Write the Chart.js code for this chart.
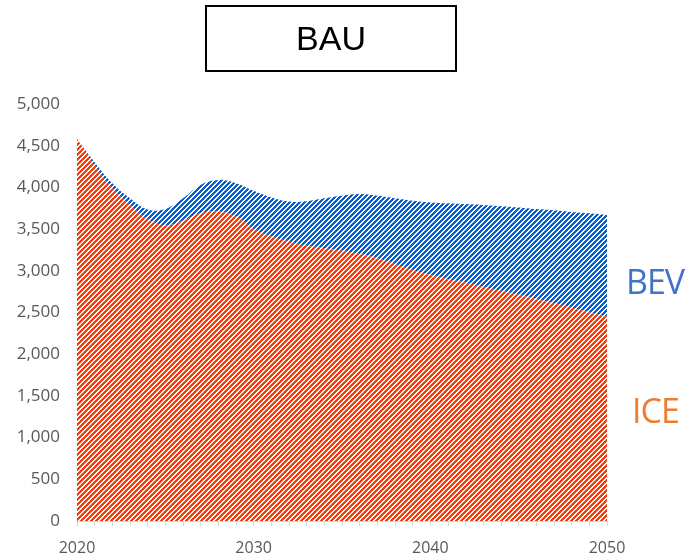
<!DOCTYPE html>
<html>
<head>
<meta charset="utf-8">
<script src="https://cdn.jsdelivr.net/npm/chart.js@4/dist/chart.umd.min.js"></script>
<style>
  html,body{margin:0;padding:0;background:#fff;}
  #wrap{position:relative;width:689px;height:560px;}
  #title{position:absolute;left:205px;top:5px;width:252px;height:67px;box-sizing:border-box;
    border:2px solid #000;display:flex;align-items:center;justify-content:center;
    font-family:"Liberation Sans",Arial,sans-serif;font-size:34px;color:#000;}
  .lbl{position:absolute;font-family:"Open Sans",sans-serif;font-size:34px;line-height:1;letter-spacing:-1px;}
  #bev{left:626px;top:264px;color:#4472C4;}
  #ice{left:632px;top:393px;color:#ED7D31;}
</style>
</head>
<body>
<div id="wrap">
  <canvas id="c" width="689" height="560"></canvas>
  <div id="title">BAU</div>
  <div class="lbl" id="bev">BEV</div>
  <div class="lbl" id="ice">ICE</div>
</div>
<script>
// --- data (vehicle stock, BAU scenario) ---
const years = [2020,2021,2022,2023,2024,2025,2026,2027,2028,2029,2030,
  2031,2032,2033,2034,2035,2036,2037,2038,2039,2040,
  2041,2042,2043,2044,2045,2046,2047,2048,2049,2050];
const iceValues = [4580,4260,3990,3790,3620,3545,3600,3690,3710,3650,3500,
  3410,3350,3300,3270,3240,3200,3150,3080,3010,2950,
  2900,2860,2810,2760,2710,2660,2610,2560,2500,2450];
const bevValues = [0,40,60,80,115,195,270,340,380,400,460,
  470,480,535,600,660,720,750,790,830,870,
  910,940,980,1015,1050,1080,1115,1145,1190,1220];
const yTicks = [0,500,1000,1500,2000,2500,3000,3500,4000,4500,5000];
const xLabelYears = [2020,2030,2040,2050];

// diagonal stripe fill like the excel pattern
function stripes(color){
  const c=document.createElement('canvas'); c.width=5; c.height=5;
  const g=c.getContext('2d');
  g.fillStyle='#fff'; g.fillRect(0,0,5,5);
  g.fillStyle=color;
  for(let i=0;i<5;i++) for(let j=0;j<5;j++) if((i+j)%5<3) g.fillRect(i,j,1,1);
  return g.createPattern(c,'repeat');
}

new Chart(document.getElementById('c'),{
  type:'line',
  data:{
    labels:years,
    datasets:[
      {label:'ICE',data:iceValues,fill:'origin',backgroundColor:stripes('#F03E0E'),borderWidth:0,pointRadius:0,tension:0.4},
      {label:'BEV',data:bevValues,fill:'-1',backgroundColor:stripes('#0A5ECC'),borderWidth:0,pointRadius:0,tension:0.4}
    ]
  },
  options:{
    responsive:false,animation:false,
    layout:{padding:{top:104,right:82,left:0,bottom:0}},
    plugins:{legend:{display:false},tooltip:{enabled:false}},
    scales:{
      x:{
        grid:{display:true,drawOnChartArea:false,color:'#d9d9d9',tickLength:5},
        border:{color:'#d9d9d9'},
        ticks:{autoSkip:false,maxRotation:0,color:'#595959',padding:13,
          font:{family:'"Open Sans"',size:16},
          callback:(v,i)=>xLabelYears.includes(years[i])?String(years[i]):''},
        afterFit:s=>{s.height=39;}
      },
      y:{
        stacked:true,min:0,max:5000,
        grid:{display:false},border:{display:false},
        afterBuildTicks:s=>{s.ticks=yTicks.map(v=>({value:v}));},
        ticks:{color:'#595959',padding:9,font:{family:'"Open Sans"',size:17},
          callback:v=>v.toLocaleString('en-US')},
        afterFit:s=>{s.width=77;}
      }
    }
  }
});
</script>
</body>
</html>
